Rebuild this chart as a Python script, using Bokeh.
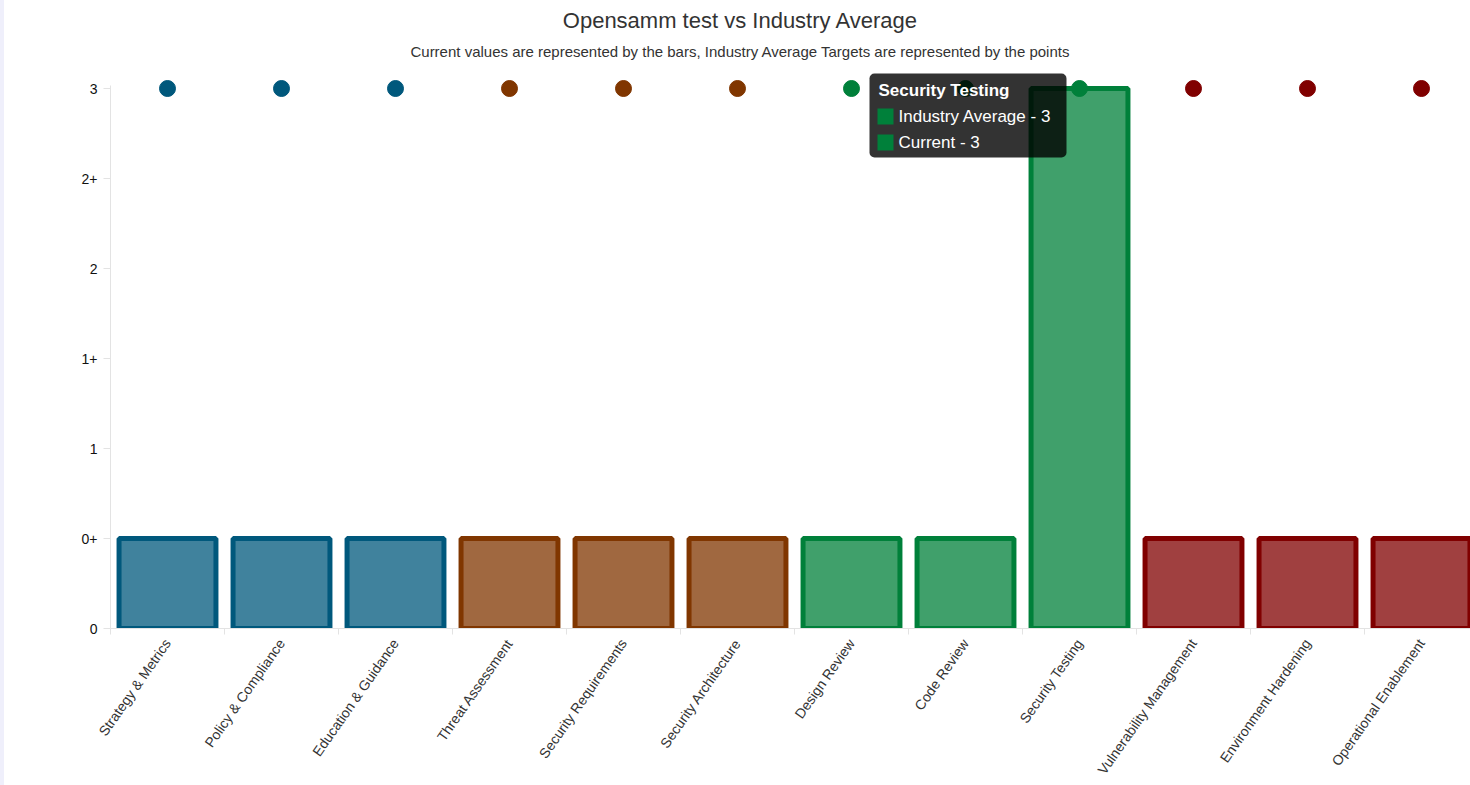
import math
from bokeh.plotting import figure
from bokeh.models import ColumnDataSource, FixedTicker, Range1d, Label, BoxAnnotation, Div
from bokeh.layouts import row
from bokeh.embed import file_html
from bokeh.resources import INLINE

# ---------------- data ----------------
categories = ["Strategy & Metrics", "Policy & Compliance", "Education & Guidance",
              "Threat Assessment", "Security Requirements", "Security Architecture",
              "Design Review", "Code Review", "Security Testing",
              "Vulnerability Management", "Environment Hardening", "Operational Enablement"]
business_functions = ["Governance", "Governance", "Governance",
                      "Construction", "Construction", "Construction",
                      "Verification", "Verification", "Verification",
                      "Operations", "Operations", "Operations"]
current = [0.5, 0.5, 0.5, 0.5, 0.5, 0.5, 0.5, 0.5, 3, 0.5, 0.5, 0.5]
industry_average = [3, 3, 3, 3, 3, 3, 3, 3, 3, 3, 3, 3]
y_ticks = [0, 0.5, 1, 1.5, 2, 2.5, 3]
y_tick_labels = ["0", "0+", "1", "1+", "2", "2+", "3"]
hovered = "Security Testing"

title_text = "Opensamm test vs Industry Average"
subtitle_text = "Current values are represented by the bars, Industry Average Targets are represented by the points"

function_colors = {"Governance": "#00587c", "Construction": "#803600",
                   "Verification": "#00803a", "Operations": "#800000"}

# ---------------- layout helpers (window pixels -> data) ----------------
FRAME_LEFT_WIN = 110
PX_PER_CAT = 114
FRAME_BOTTOM = 628
PX_PER_UNIT = 180
def dx(px):
    return (px - FRAME_LEFT_WIN) / PX_PER_CAT - 0.5
def dy(py):
    return (FRAME_BOTTOM - py) / PX_PER_UNIT

FONT = "Liberation Sans"
STRIP = 4
FIG_W = 1470 - STRIP
FIG_H = 785

xs = list(range(len(categories)))
colors = [function_colors[f] for f in business_functions]
src = ColumnDataSource(dict(x=xs, cat=categories, current=current,
                            avg=industry_average, color=colors))

p = figure(width=FIG_W, height=FIG_H, title=None,
           x_range=Range1d(-0.5, -0.5 + (FIG_W - (FRAME_LEFT_WIN - STRIP)) / PX_PER_CAT),
           y_range=Range1d(0, FRAME_BOTTOM / PX_PER_UNIT),
           output_backend="svg", toolbar_location=None,
           min_border_left=FRAME_LEFT_WIN - STRIP, min_border_right=0,
           min_border_top=0, min_border_bottom=FIG_H - FRAME_BOTTOM,
           outline_line_color=None, background_fill_color="white",
           border_fill_color="white")
p.xgrid.visible = False
p.ygrid.visible = False

p.vbar(x="x", top="current", bottom=-0.015, width=0.85, source=src,
       fill_color="color", fill_alpha=0.75, line_color="color", line_width=5)
p.scatter(x="x", y="avg", size=16, source=src, fill_color="color", line_color="color")

AX = "#e3e3e3"
xa = p.xaxis[0]
xa.ticker = FixedTicker(ticks=xs, minor_ticks=[i - 0.5 for i in range(len(categories) + 1)])
xa.major_label_overrides = {i: c for i, c in enumerate(categories)}
xa.major_tick_out = 0
xa.major_tick_in = 0
xa.minor_tick_out = 6
xa.minor_tick_in = 0
xa.minor_tick_line_color = AX
xa.axis_line_color = AX
xa.major_label_orientation = math.radians(55)
xa.major_label_text_font = FONT
xa.major_label_text_font_size = "14px"
xa.major_label_text_color = "#333333"
xa.major_label_standoff = 6

ya = p.yaxis[0]
ya.ticker = FixedTicker(ticks=y_ticks, minor_ticks=[])
ya.major_label_overrides = {t: l for t, l in zip(y_ticks, y_tick_labels)}
ya.bounds = (0, dy(85))
ya.major_tick_out = 7
ya.major_tick_in = 0
ya.major_tick_line_color = AX
ya.axis_line_color = AX
ya.major_label_text_font = FONT
ya.major_label_text_font_size = "14px"
ya.major_label_text_color = "#111111"
ya.major_label_standoff = 6

# titles
p.add_layout(Label(x=dx(740), y=dy(20), text=title_text, text_align="center",
                   text_baseline="middle", text_font=FONT, text_font_size="22px",
                   text_color="#333333"))
p.add_layout(Label(x=dx(740), y=dy(51), text=subtitle_text, text_align="center",
                   text_baseline="middle", text_font=FONT, text_font_size="15px",
                   text_color="#333333"))

# hover tooltip as captured in the screenshot
hi = categories.index(hovered)
hcol = function_colors[business_functions[hi]]
p.add_layout(BoxAnnotation(left=dx(869), right=dx(1066), top=dy(73), bottom=dy(157),
                           fill_color="black", fill_alpha=0.8, line_color=None,
                           border_radius=5, level="overlay"))
p.add_layout(Label(x=dx(878), y=dy(90), text=hovered, text_align="left",
                   text_baseline="middle", text_font=FONT, text_font_size="17px",
                   text_font_style="bold", text_color="white", level="overlay"))
for k, (name, val) in enumerate([("Industry Average", industry_average[hi]),
                                 ("Current", current[hi])]):
    cy = 116 + 26 * k
    p.add_layout(BoxAnnotation(left=dx(877), right=dx(893), top=dy(cy - 8), bottom=dy(cy + 8),
                               fill_color=hcol, fill_alpha=1, line_color=None, level="overlay"))
    p.add_layout(Label(x=dx(898), y=dy(cy), text=f"{name} - {val}", text_align="left",
                       text_baseline="middle", text_font=FONT, text_font_size="17px",
                       text_color="white", level="overlay"))

strip = Div(text="", width=STRIP, height=FIG_H, margin=0,
            styles={"background-color": "#efeffb"})
layout = row(strip, p, spacing=0)

open("out.html", "w").write(file_html(layout, INLINE))
